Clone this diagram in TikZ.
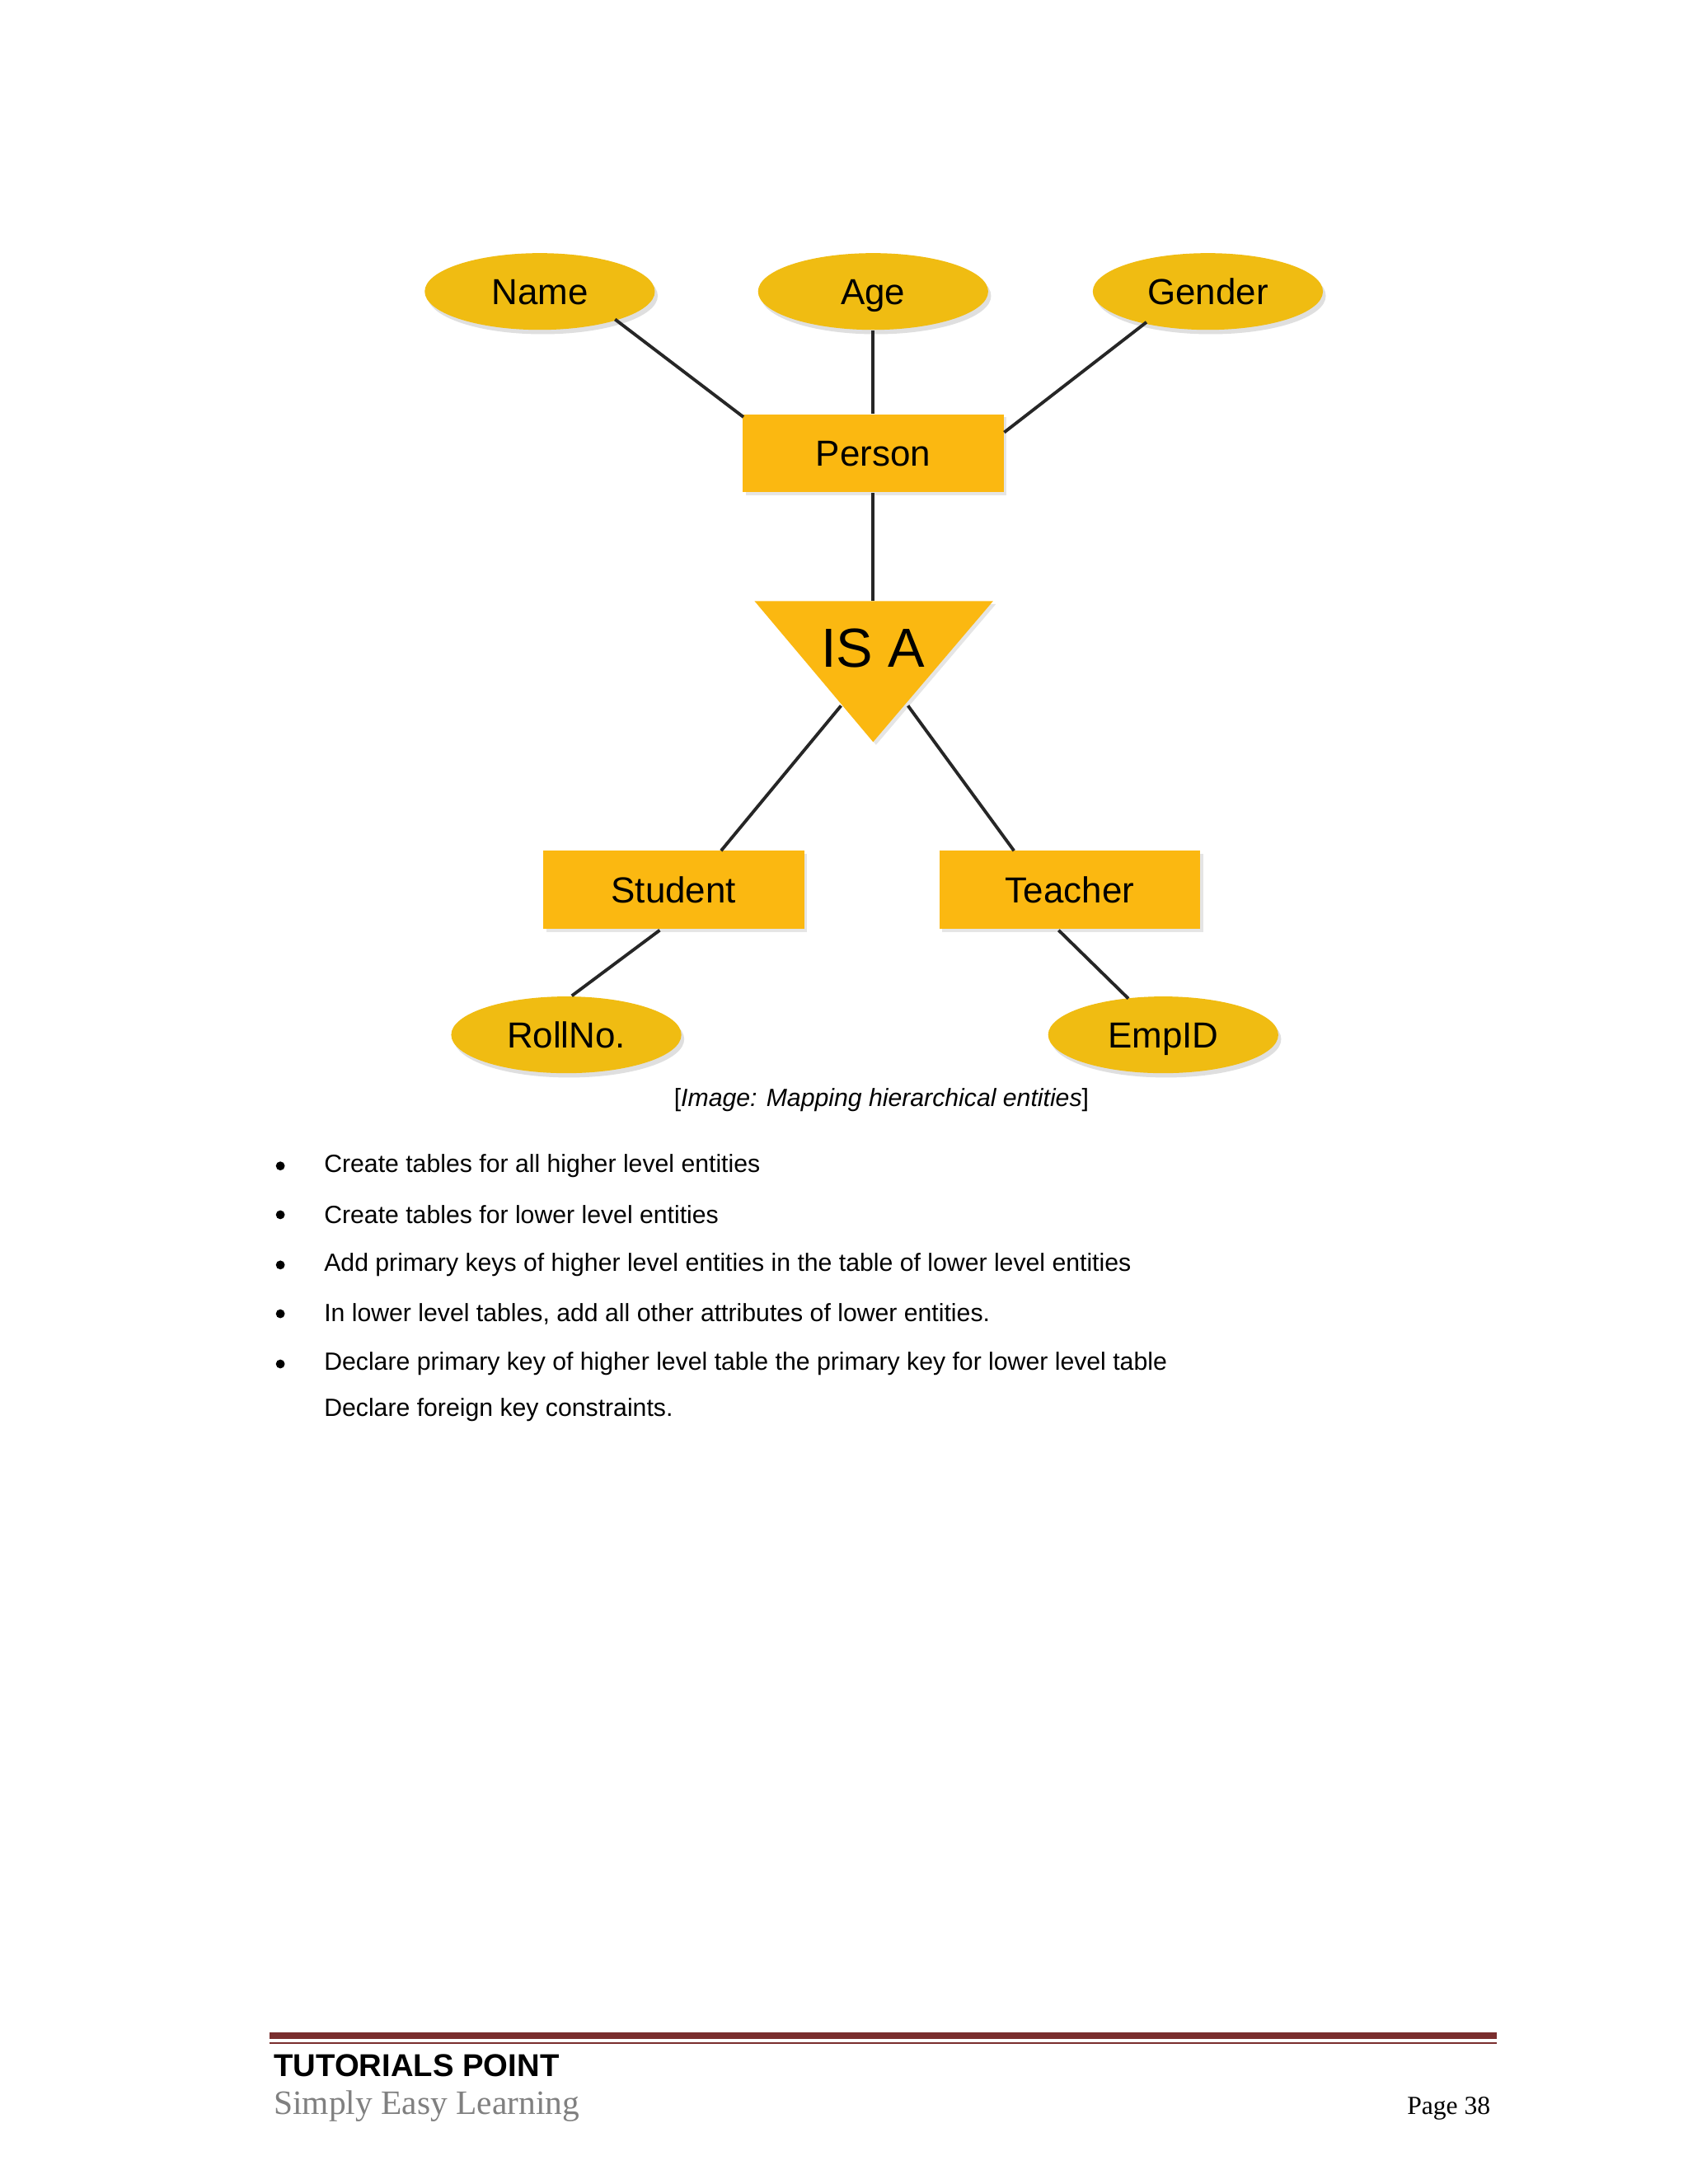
\documentclass[tikz,border=0pt]{standalone}
\usepackage{fontspec}
\setmainfont{Liberation Sans}
\newfontfamily\seriffont{Liberation Serif}
\usetikzlibrary{shapes.geometric,shadows}
\definecolor{ell}{HTML}{F0BC12}
\definecolor{ent}{HTML}{FBB811}
\definecolor{foot}{HTML}{7A2E2E}
\newlength{\pu}\setlength{\pu}{0.16928mm}
\tikzset{
 attr/.style={ellipse,fill=ell,minimum width=165\pu,minimum height=55\pu,inner sep=0pt,text height=9pt,text depth=0pt,font=\fontsize{12.5}{14}\selectfont,drop shadow={opacity=0.25,shadow xshift=1pt,shadow yshift=-1.5pt}},
 entity/.style={rectangle,fill=ent,minimum width=187\pu,minimum height=56\pu,inner sep=0pt,text height=9pt,text depth=0pt,font=\fontsize{12.5}{14}\selectfont,drop shadow={opacity=0.2,shadow xshift=1pt,shadow yshift=-1pt}},
 conn/.style={line width=1.1pt,black!85},
 txt/.style={anchor=west,inner sep=0pt,font=\fontsize{8.6}{10}\selectfont}
}
\begin{document}
\begin{tikzpicture}[x=0.16928mm,y=-0.16928mm]
\useasboundingbox (0,0) rectangle (1210,1566);
\fill[white] (0,0) rectangle (1210,1566);
\node[attr] (name) at (387,209) {Name};
\node[attr] (age) at (626,209) {Age};
\node[attr] (gender) at (866,209) {Gender};
\node[entity] (person) at (626,325) {Person};
\coordinate (t1) at (541,431); \coordinate (t2) at (712,431); \coordinate (t3) at (626,532);
\fill[ent,drop shadow={opacity=0.2,shadow xshift=1pt,shadow yshift=-1pt}] (t1)--(t2)--(t3)--cycle;
\node[font=\fontsize{19}{21}\selectfont,text height=13pt,text depth=0pt,inner sep=0pt] (isa) at (626,465) {IS A};
\coordinate (isatop) at (626,431);
\coordinate (isal) at (603,506); \coordinate (isar) at (651,506);
\node[entity] (student) at (483,638) {Student};
\node[entity] (teacher) at (767,638) {Teacher};
\node[attr] (roll) at (406,742) {RollNo.};
\node[attr] (emp) at (834,742) {EmpID};
\coordinate (nE) at (441,229); \coordinate (pA) at (533,299);
\coordinate (gE) at (822,231); \coordinate (pB) at (720,310);
\coordinate (sT) at (517,610); \coordinate (tT) at (727,610);
\coordinate (sB) at (473,667); \coordinate (rT) at (410,714);
\coordinate (tB) at (759,667); \coordinate (eT) at (809,716);
\draw[conn] (nE) -- (pA);
\draw[conn] (age.south) -- (person.north);
\draw[conn] (gE) -- (pB);
\draw[conn] (person.south) -- (isatop);
\draw[conn] (isal) -- (sT);
\draw[conn] (isar) -- (tT);
\draw[conn] (sB) -- (rT);
\draw[conn] (tB) -- (eT);
\node[inner sep=0pt,font=\fontsize{8.6}{10}\selectfont] (cap) at (632,789) {[\textit{Image: Mapping hierarchical entities}]};
\foreach \y/\t [count=\i] in {836/Create tables for all higher level entities,871/Create tables for lower level entities,907/Add primary keys of higher level entities in the table of lower level entities,942/{In lower level tables, add all other attributes of lower entities.},978/Declare primary key of higher level table the primary key for lower level table}{
 \fill (201,\y) circle (3.2);
 \node[txt] (b\i) at (232,\y) {\t};
}
\node[txt] (b6) at (232,1011) {Declare foreign key constraints.};
\fill[foot] (193,1457) rectangle (1073,1462);
\draw[foot,line width=0.5pt] (193,1465) -- (1073,1465);
\node[anchor=west,inner sep=0pt,font=\bfseries\fontsize{10.9}{12}\selectfont] (tp) at (196,1481) {TUTORIALS POINT};
\node[anchor=west,inner sep=0pt,text=black!50,font=\seriffont\fontsize{11.8}{13}\selectfont] (sel) at (196,1510) {Simply Easy Learning};
\node[anchor=east,inner sep=0pt,font=\seriffont\fontsize{9}{10}\selectfont] (pg) at (1069,1512) {Page 38};
\end{tikzpicture}
\end{document}
